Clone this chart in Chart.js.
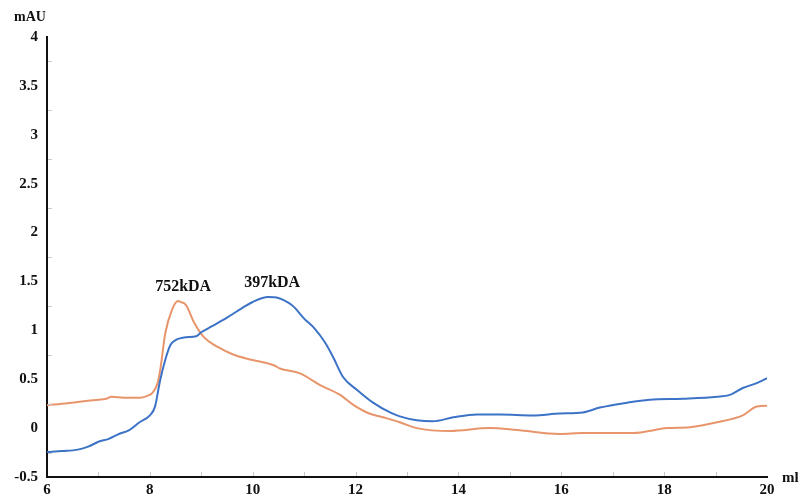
<!DOCTYPE html>
<html>
<head>
<meta charset="utf-8">
<script src="https://cdn.jsdelivr.net/npm/chart.js@4"></script>
<style>
  html, body { margin: 0; padding: 0; background: #ffffff; }
  #wrap { width: 801px; height: 497px; }
</style>
</head>
<body>
<div id="wrap"><canvas id="c" width="801" height="497"></canvas></div>
<script>
// Elution volume (ml) and absorbance (mAU) for the two runs
const blueVolume = [6.0, 6.3, 6.6, 6.8, 7.0, 7.2, 7.4, 7.6, 7.8, 8.0, 8.1, 8.2, 8.3, 8.4, 8.5, 8.7, 8.9, 9.0, 9.2, 9.5, 9.8, 10.0, 10.3, 10.5, 10.7, 10.8, 11.0, 11.2, 11.4, 11.56, 11.76, 12.03, 12.34, 12.67, 12.86, 13.19, 13.5, 13.9, 14.36, 14.81, 15.45, 15.97, 16.42, 16.75, 17.28, 17.72, 18.37, 19.03, 19.28, 19.53, 19.8, 20.0];
const blueAbs    = [-0.245, -0.235, -0.22, -0.19, -0.14, -0.11, -0.06, -0.02, 0.06, 0.13, 0.22, 0.49, 0.70, 0.85, 0.90, 0.93, 0.94, 0.98, 1.04, 1.13, 1.23, 1.29, 1.34, 1.33, 1.28, 1.24, 1.12, 1.02, 0.88, 0.73, 0.52, 0.39, 0.26, 0.16, 0.12, 0.08, 0.07, 0.11, 0.14, 0.14, 0.13, 0.15, 0.16, 0.21, 0.26, 0.29, 0.30, 0.32, 0.34, 0.41, 0.46, 0.51];

const orangeVolume = [6.0, 6.4, 6.8, 7.0, 7.15, 7.25, 7.5, 7.8, 7.95, 8.05, 8.15, 8.2, 8.3, 8.43, 8.55, 8.6, 8.7, 8.86, 9.05, 9.32, 9.63, 9.97, 10.42, 10.53, 10.92, 11.31, 11.7, 11.95, 12.22, 12.61, 12.86, 13.19, 13.84, 14.61, 15.14, 15.97, 16.42, 17.39, 18.06, 18.5, 19.03, 19.53, 19.8, 20.05];
const orangeAbs    = [0.235, 0.255, 0.28, 0.29, 0.30, 0.32, 0.31, 0.31, 0.33, 0.36, 0.46, 0.59, 0.97, 1.21, 1.30, 1.29, 1.26, 1.08, 0.93, 0.83, 0.75, 0.70, 0.64, 0.61, 0.56, 0.44, 0.34, 0.24, 0.16, 0.10, 0.06, 0.0, -0.03, 0.0, -0.02, -0.06, -0.05, -0.05, 0.0, 0.01, 0.06, 0.13, 0.22, 0.23];

// Axis ranges and peak annotations
const xTicks = { min: 6, max: 20, step: 2 };
const yTicks = { min: -0.5, max: 4, step: 0.5 };
const peakLabels = [
  { text: '752kDA', x: 8.55, y: 1.30, dx: 5 },
  { text: '397kDA', x: 10.3, y: 1.34, dx: 4 }
];

const toPoints = (xs, ys) => xs.map((x, i) => ({ x: x, y: ys[i] }));

const serif = '"Liberation Serif", "Times New Roman", serif';

// Small inside tick marks plus axis titles and peak labels
const decorations = {
  id: 'decorations',
  afterDatasetsDraw(chart) {
    const { ctx, scales: { x, y } } = chart;
    ctx.save();
    ctx.strokeStyle = '#c8c8c8';
    ctx.lineWidth = 1;
    for (let v = xTicks.min + 1; v < xTicks.max; v += 1) {
      const px = Math.round(x.getPixelForValue(v)) + 0.5;
      ctx.beginPath();
      ctx.moveTo(px, y.bottom - 1);
      ctx.lineTo(px, y.bottom - 5);
      ctx.stroke();
    }
    for (let v = yTicks.min + 0.25; v < yTicks.max; v += 0.5) {
      const py = Math.round(y.getPixelForValue(v)) + 0.5;
      ctx.beginPath();
      ctx.moveTo(x.left + 1, py);
      ctx.lineTo(x.left + 5, py);
      ctx.stroke();
    }
    ctx.fillStyle = '#111111';
    ctx.font = 'bold 14px ' + serif;
    ctx.textAlign = 'center';
    ctx.textBaseline = 'middle';
    ctx.fillText('mAU', x.left - 17, y.top - 20);
    ctx.font = 'bold 15px ' + serif;
    ctx.textAlign = 'left';
    ctx.fillText('ml', x.right + 15, y.bottom + 1);
    ctx.font = 'bold 16px ' + serif;
    ctx.textAlign = 'center';
    ctx.textBaseline = 'bottom';
    peakLabels.forEach(p => {
      ctx.fillText(p.text, x.getPixelForValue(p.x) + p.dx, y.getPixelForValue(p.y) - 6);
    });
    ctx.restore();
  }
};

new Chart(document.getElementById('c'), {
  type: 'line',
  data: {
    datasets: [
      {
        label: 'blue',
        data: toPoints(blueVolume, blueAbs),
        borderColor: '#3d73c7',
        borderWidth: 2,
        pointRadius: 0,
        cubicInterpolationMode: 'monotone',
        fill: false
      },
      {
        label: 'orange',
        data: toPoints(orangeVolume, orangeAbs),
        borderColor: '#e8956b',
        borderWidth: 2,
        pointRadius: 0,
        cubicInterpolationMode: 'monotone',
        fill: false
      }
    ]
  },
  options: {
    responsive: false,
    animation: false,
    events: [],
    layout: { padding: { left: 0, top: 37, right: 34, bottom: 0 } },
    plugins: {
      legend: { display: false },
      tooltip: { enabled: false }
    },
    scales: {
      x: {
        type: 'linear',
        min: xTicks.min,
        max: xTicks.max,
        afterFit(scale) { scale.height = 20; },
        grid: { color: 'rgba(0,0,0,0)', drawTicks: false },
        border: { display: true, color: '#111111', width: 2 },
        ticks: {
          stepSize: xTicks.step,
          padding: 4,
          color: '#111111',
          font: { family: serif, size: 15, weight: 'bold' },
          callback: v => String(v)
        }
      },
      y: {
        type: 'linear',
        min: yTicks.min,
        max: yTicks.max,
        afterFit(scale) { scale.width = 47; },
        grid: { color: 'rgba(0,0,0,0)', drawTicks: false },
        border: { display: true, color: '#111111', width: 2 },
        ticks: {
          stepSize: yTicks.step,
          padding: 9,
          color: '#111111',
          font: { family: serif, size: 15, weight: 'bold' },
          callback: v => String(Math.round(v * 100) / 100)
        }
      }
    }
  },
  plugins: [decorations]
});
</script>
</body>
</html>
